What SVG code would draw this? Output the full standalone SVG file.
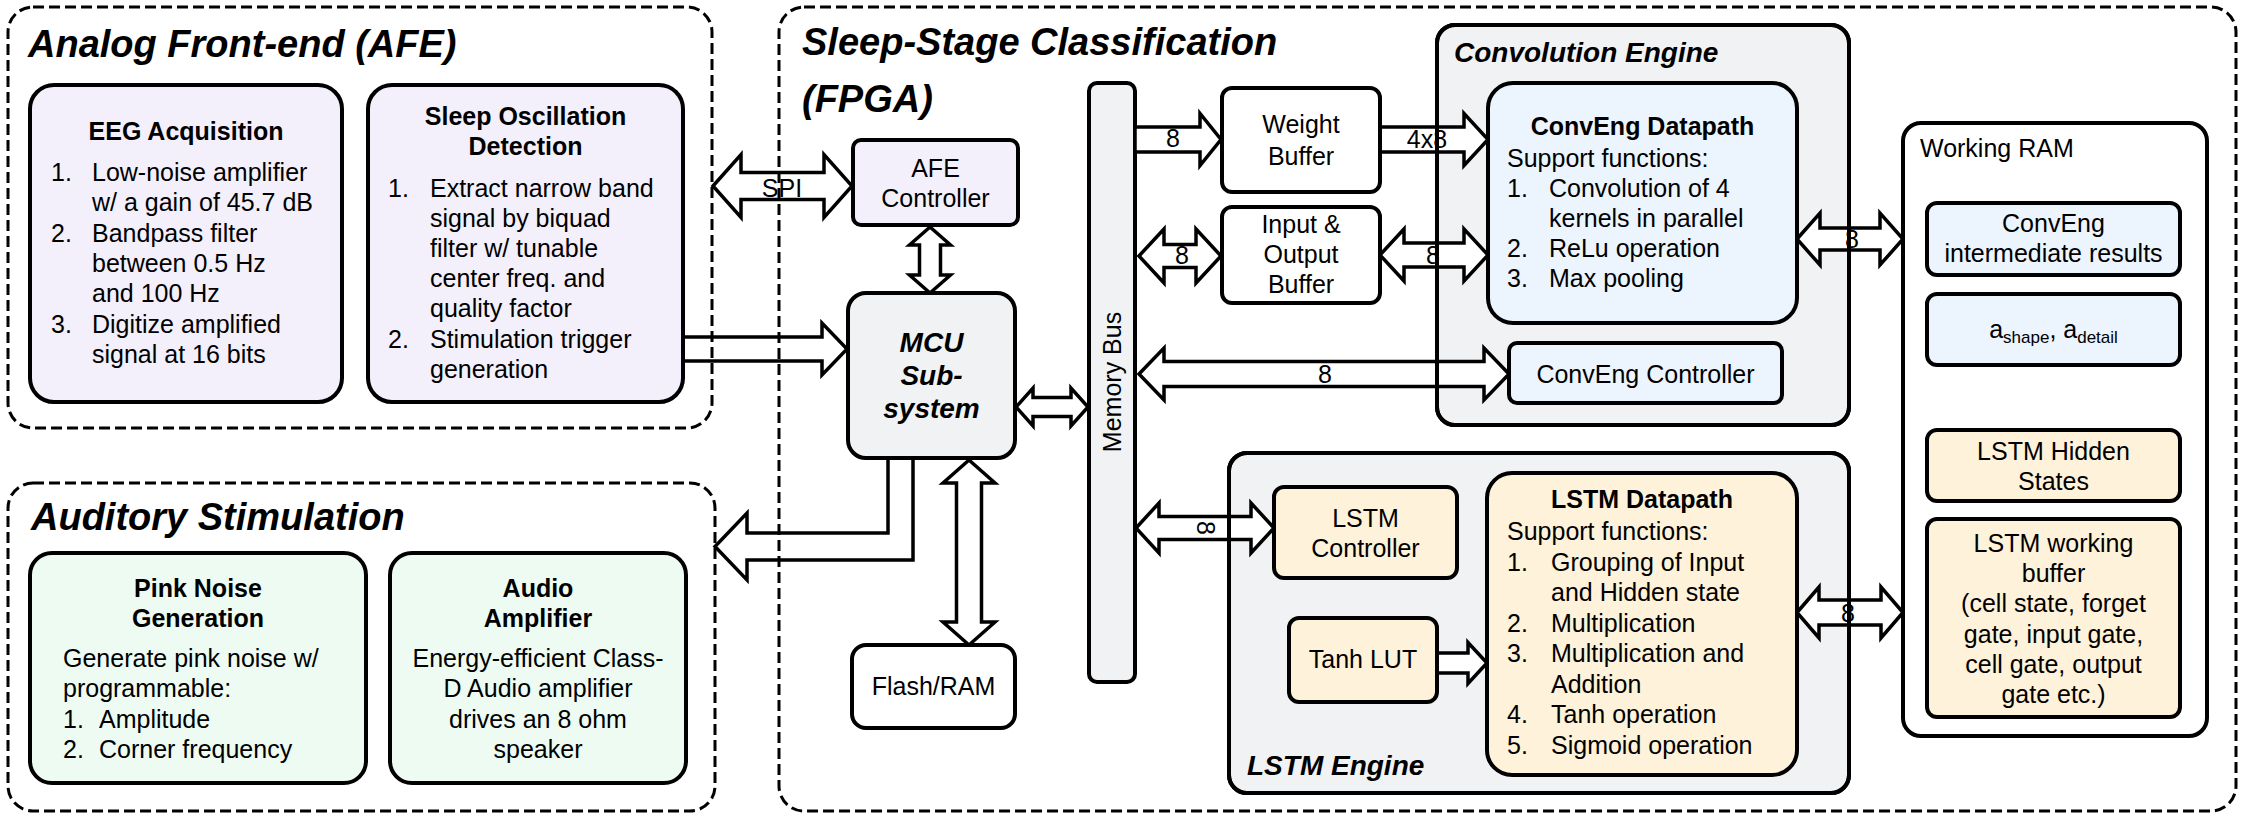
<svg xmlns="http://www.w3.org/2000/svg" width="2244" height="818" viewBox="0 0 2244 818">
<style>
.t{font-family:"Liberation Sans",Arial,sans-serif;font-size:25px;fill:#000}
.b{font-weight:bold}
.c{text-anchor:middle}
.h{font-size:38px;font-weight:bold;font-style:italic}
.e{font-size:28px;font-weight:bold;font-style:italic}
.box{stroke:#000;stroke-width:4}
.dash{fill:none;stroke:#000;stroke-width:3;stroke-dasharray:11 5}
.arr{fill:#fff;stroke:#000;stroke-width:3.5;stroke-linejoin:miter}
.lav{fill:#F3F0FC}.mint{fill:#EDFBF3}.blue{fill:#ECF4FD}.cream{fill:#FEF2DA}.gray{fill:#F1F2F4}.white{fill:#fff}
</style>
<rect width="2244" height="818" fill="#fff"/>

<g id="engines-bg">
<rect class="box gray" x="1437" y="25" width="412" height="400" rx="18"/>
<rect class="box gray" x="1229" y="453" width="620" height="340" rx="18"/>
</g>
<g id="memory-bus">
<rect class="box gray" x="1089" y="83" width="46" height="599" rx="8"/>
<text class="t c" transform="rotate(-90 1121 382)" x="1121" y="382">Memory Bus</text>
</g>

<g id="connectors">
<polygon class="arr" points="713,186 741,154.5 741,172.5 824,172.5 824,154.5 852,186 824,217.5 824,199.5 741,199.5 741,217.5"/>
<polygon class="arr" points="930,227 950.5,245 940.5,245 940.5,275 950.5,275 930,293 909.5,275 919.5,275 919.5,245 909.5,245"/>
<polygon class="arr" points="683,337 822,337 822,323 847,349 822,375 822,361 683,361"/>
<polygon class="arr" points="1016,407 1033,388 1033,397.5 1071,397.5 1071,388 1088,407 1071,426 1071,416.5 1033,416.5 1033,426"/>
<polygon class="arr" points="1135,127 1200,127 1200,113.5 1221,139.5 1200,165.5 1200,152 1135,152"/>
<polygon class="arr" points="1139,256 1164,229 1164,244.5 1196,244.5 1196,229 1221,256 1196,283 1196,267.5 1164,267.5 1164,283"/>
<polygon class="arr" points="1139,374 1164,348 1164,361.5 1484,361.5 1484,348 1509,374 1484,400 1484,386.5 1164,386.5 1164,400"/>
<polygon class="arr" points="1380,127 1464,127 1464,113.5 1488,139.5 1464,165.5 1464,152 1380,152"/>
<polygon class="arr" points="1380,255 1404,229 1404,243 1464,243 1464,229 1488,255 1464,281 1464,267 1404,267 1404,281"/>
<polygon class="arr" points="1797,239 1820,213 1820,228 1880,228 1880,213 1903,239 1880,265 1880,250 1820,250 1820,265"/>
<polygon class="arr" points="1136,528 1159,503 1159,516.5 1251,516.5 1251,503 1274,528 1251,553 1251,539.5 1159,539.5 1159,553"/>
<polygon class="arr" points="1437,653 1468,653 1468,642.5 1487,663 1468,683.5 1468,673 1437,673"/>
<polygon class="arr" points="1797,612.5 1819,587 1819,600 1881,600 1881,587 1903,612.5 1881,638 1881,625 1819,625 1819,638"/>
<polygon class="arr" points="969,460 995,483 981.5,483 981.5,622 995,622 969,645 943,622 956.5,622 956.5,483 943,483"/>
<polygon class="arr" points="888,458 888,533 747,533 747,513 715,546.5 747,580 747,560 913,560 913,458"/>
<text class="t c" x="782" y="197">SPI</text>
<text class="t c" x="1173" y="147">8</text>
<text class="t c" x="1182" y="264">8</text>
<text class="t c" x="1325" y="383">8</text>
<text class="t c" x="1427" y="148">4x8</text>
<text class="t c" x="1433" y="264">8</text>
<text class="t c" x="1852" y="248">8</text>
<text class="t c" transform="rotate(90 1206 528)" x="1206" y="537">8</text>
<text class="t c" x="1848" y="622">8</text>
</g>

<g id="engine-borders">
<rect fill="none" stroke="#000" stroke-width="4" x="1437" y="25" width="412" height="400" rx="18"/>
<rect fill="none" stroke="#000" stroke-width="4" x="1229" y="453" width="620" height="340" rx="18"/>
<text class="t e" x="1454" y="62">Convolution Engine</text>
<text class="t e" x="1247" y="775">LSTM Engine</text>
</g>

<g id="afe">
<rect class="dash" x="8" y="7" width="704" height="421" rx="25"/>
<text class="t h" x="28" y="57">Analog Front-end (AFE)</text>
</g>
<g id="auditory">
<rect class="dash" x="8" y="483" width="707" height="328" rx="25"/>
<text class="t h" x="31" y="530">Auditory Stimulation</text>
</g>
<g id="sleep-stage">
<rect class="dash" x="779" y="7" width="1457" height="804" rx="25"/>
<text class="t h" x="802" y="55">Sleep-Stage Classification</text>
<text class="t h" x="802" y="112">(FPGA)</text>
</g>

<g id="eeg">
<rect class="box lav" x="30" y="85" width="312" height="317" rx="24"/>
<text class="t b c" x="186" y="140">EEG Acquisition</text>
<text class="t" x="51" y="181">1.</text><text class="t" x="92" y="181">Low-noise amplifier</text>
<text class="t" x="92" y="211.3">w/ a gain of 45.7 dB</text>
<text class="t" x="51" y="241.6">2.</text><text class="t" x="92" y="241.6">Bandpass filter</text>
<text class="t" x="92" y="271.9">between 0.5 Hz</text>
<text class="t" x="92" y="302.2">and 100 Hz</text>
<text class="t" x="51" y="332.5">3.</text><text class="t" x="92" y="332.5">Digitize amplified</text>
<text class="t" x="92" y="362.8">signal at 16 bits</text>
</g>
<g id="sleep-osc">
<rect class="box lav" x="368" y="85" width="315" height="317" rx="24"/>
<text class="t b c" x="525.5" y="125">Sleep Oscillation</text>
<text class="t b c" x="525.5" y="155">Detection</text>
<text class="t" x="388" y="197">1.</text><text class="t" x="430" y="197">Extract narrow band</text>
<text class="t" x="430" y="227">signal by biquad</text>
<text class="t" x="430" y="257">filter w/ tunable</text>
<text class="t" x="430" y="287">center freq. and</text>
<text class="t" x="430" y="317">quality factor</text>
<text class="t" x="388" y="348">2.</text><text class="t" x="430" y="348">Stimulation trigger</text>
<text class="t" x="430" y="378">generation</text>
</g>
<g id="pink">
<rect class="box mint" x="30" y="553" width="336" height="230" rx="22"/>
<text class="t b c" x="198" y="597">Pink Noise</text>
<text class="t b c" x="198" y="627">Generation</text>
<text class="t" x="63" y="667">Generate pink noise w/</text>
<text class="t" x="63" y="697">programmable:</text>
<text class="t" x="63" y="728">1.</text><text class="t" x="99" y="728">Amplitude</text>
<text class="t" x="63" y="758">2.</text><text class="t" x="99" y="758">Corner frequency</text>
</g>
<g id="audio">
<rect class="box mint" x="390" y="553" width="296" height="230" rx="22"/>
<text class="t b c" x="538" y="597">Audio</text>
<text class="t b c" x="538" y="627">Amplifier</text>
<text class="t c" x="538" y="667">Energy-efficient Class-</text>
<text class="t c" x="538" y="697">D Audio amplifier</text>
<text class="t c" x="538" y="728">drives an 8 ohm</text>
<text class="t c" x="538" y="758">speaker</text>
</g>

<g id="afe-controller">
<rect class="box lav" x="853" y="140" width="165" height="85" rx="8"/>
<text class="t c" x="935.5" y="177">AFE</text>
<text class="t c" x="935.5" y="207">Controller</text>
</g>
<g id="mcu">
<rect class="box gray" x="848" y="293" width="167" height="165" rx="18"/>
<text class="t e c" x="931.5" y="352">MCU</text>
<text class="t e c" x="931.5" y="385">Sub-</text>
<text class="t e c" x="931.5" y="418">system</text>
</g>
<g id="flash">
<rect class="box white" x="852" y="645" width="163" height="83" rx="14"/>
<text class="t c" x="933.5" y="695">Flash/RAM</text>
</g>
<g id="weight-buffer">
<rect class="box white" x="1222" y="88" width="158" height="104" rx="10"/>
<text class="t c" x="1301" y="133">Weight</text>
<text class="t c" x="1301" y="165">Buffer</text>
</g>
<g id="io-buffer">
<rect class="box white" x="1222" y="207" width="158" height="96" rx="10"/>
<text class="t c" x="1301" y="233">Input &amp;</text>
<text class="t c" x="1301" y="263">Output</text>
<text class="t c" x="1301" y="293">Buffer</text>
</g>
<g id="conv-datapath">
<rect class="box blue" x="1488" y="83" width="309" height="240" rx="25"/>
<text class="t b c" x="1642.5" y="135">ConvEng Datapath</text>
<text class="t" x="1507" y="167">Support functions:</text>
<text class="t" x="1507" y="197">1.</text><text class="t" x="1549" y="197">Convolution of 4</text>
<text class="t" x="1549" y="227">kernels in parallel</text>
<text class="t" x="1507" y="257">2.</text><text class="t" x="1549" y="257">ReLu operation</text>
<text class="t" x="1507" y="287">3.</text><text class="t" x="1549" y="287">Max pooling</text>
</g>
<g id="conv-controller">
<rect class="box blue" x="1509" y="343" width="273" height="60" rx="8"/>
<text class="t c" x="1645.5" y="383">ConvEng Controller</text>
</g>
<g id="lstm-controller">
<rect class="box cream" x="1274" y="487" width="183" height="91" rx="10"/>
<text class="t c" x="1365.5" y="527">LSTM</text>
<text class="t c" x="1365.5" y="557">Controller</text>
</g>
<g id="tanh-lut">
<rect class="box cream" x="1289" y="618" width="148" height="84" rx="10"/>
<text class="t c" x="1363" y="668">Tanh LUT</text>
</g>
<g id="lstm-datapath">
<rect class="box cream" x="1487" y="473" width="310" height="302" rx="25"/>
<text class="t b c" x="1642" y="508">LSTM Datapath</text>
<text class="t" x="1507" y="540">Support functions:</text>
<text class="t" x="1507" y="570.5">1.</text><text class="t" x="1551" y="570.5">Grouping of Input</text>
<text class="t" x="1551" y="601">and Hidden state</text>
<text class="t" x="1507" y="631.5">2.</text><text class="t" x="1551" y="631.5">Multiplication</text>
<text class="t" x="1507" y="662">3.</text><text class="t" x="1551" y="662">Multiplication and</text>
<text class="t" x="1551" y="692.5">Addition</text>
<text class="t" x="1507" y="723">4.</text><text class="t" x="1551" y="723">Tanh operation</text>
<text class="t" x="1507" y="753.5">5.</text><text class="t" x="1551" y="753.5">Sigmoid operation</text>
</g>
<g id="working-ram">
<rect class="box white" x="1903" y="123" width="304" height="613" rx="18"/>
<text class="t" x="1920" y="157">Working RAM</text>
</g>
<g id="conv-intermediate">
<rect class="box blue" x="1927" y="203" width="253" height="72" rx="10"/>
<text class="t c" x="2053.5" y="232">ConvEng</text>
<text class="t c" x="2053.5" y="262">intermediate results</text>
</g>
<g id="a-params">
<rect class="box blue" x="1927" y="294" width="253" height="71" rx="10"/>
<text class="t c" x="2053.5" y="338">a<tspan font-size="17" dy="5">shape</tspan><tspan dy="-5">, a</tspan><tspan font-size="17" dy="5">detail</tspan></text>
</g>
<g id="lstm-hidden">
<rect class="box cream" x="1927" y="430" width="253" height="71" rx="10"/>
<text class="t c" x="2053.5" y="460">LSTM Hidden</text>
<text class="t c" x="2053.5" y="490">States</text>
</g>
<g id="lstm-buffer">
<rect class="box cream" x="1927" y="519" width="253" height="198" rx="10"/>
<text class="t c" x="2053.5" y="552">LSTM working</text>
<text class="t c" x="2053.5" y="582">buffer</text>
<text class="t c" x="2053.5" y="612">(cell state, forget</text>
<text class="t c" x="2053.5" y="643">gate, input gate,</text>
<text class="t c" x="2053.5" y="673">cell gate, output</text>
<text class="t c" x="2053.5" y="703">gate etc.)</text>
</g>
</svg>
